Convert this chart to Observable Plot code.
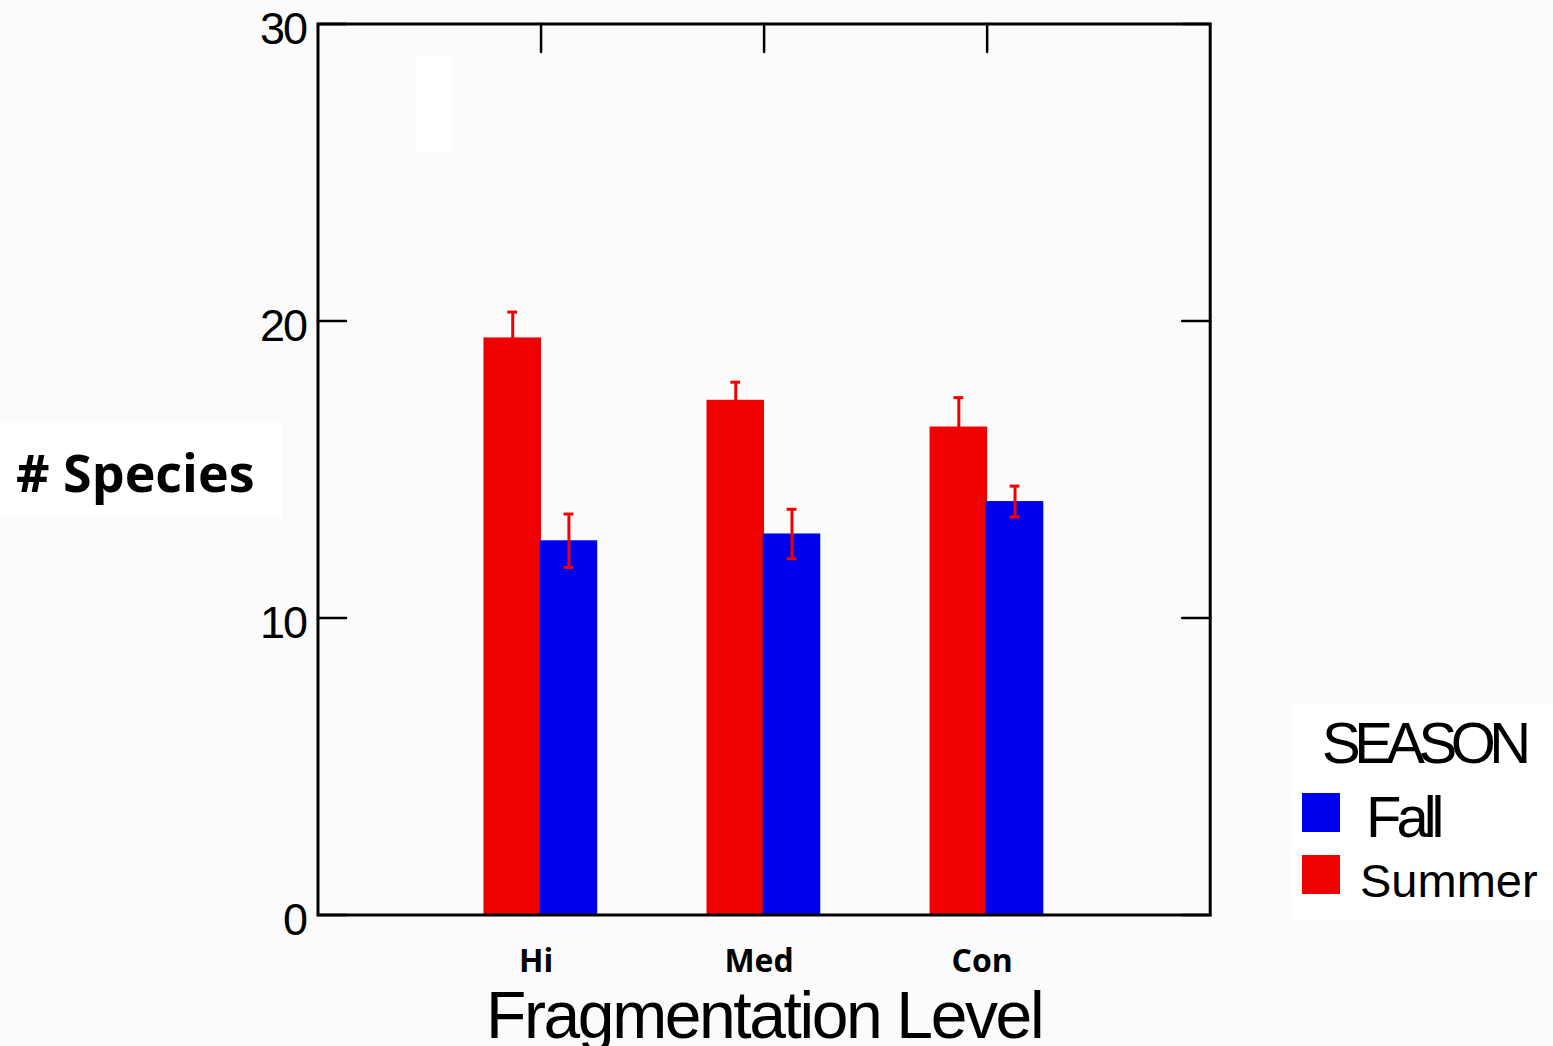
<!DOCTYPE html>
<html><head><meta charset="utf-8">
<script src="https://cdn.jsdelivr.net/npm/d3@7"></script>
<script src="https://cdn.jsdelivr.net/npm/@observablehq/plot@0.6"></script>
<style>
html,body{margin:0;padding:0;background:#fbfbfb;}
#wrap{position:relative;width:1553px;height:1046px;overflow:hidden;}
#wrap svg{position:absolute;left:0;top:0;}
.ov{position:absolute;white-space:nowrap;line-height:1;color:#000;}
.lab{font-family:"Liberation Sans",Arial,sans-serif;}
.sw{position:absolute;width:38px;height:39px;}
</style></head>
<body><div id="wrap"></div>
<script>
// ---- data ----
const categories = ["Hi", "Med", "Con"];
const seasons = ["Summer", "Fall"];
const summerMeans = [19.43, 17.33, 16.43];
const summerErrors = [0.87, 0.61, 0.99];
const fallMeans = [12.6, 12.83, 13.92];
const fallErrors = [0.9, 0.83, 0.52];
const yTicks = [0, 10, 20, 30];
const xTitle = "Fragmentation Level";
const yTitle = "# Species";
const legendTitle = "SEASON";

// ---- layout / style ----
const colors = {Summer: "#f10000", Fall: "#0000f0"};
const errColor = "#f00000";
const barOffsets = {Summer: [-0.256, 0.002], Fall: [-0.004, 0.254]};

const rows = [];
seasons.forEach(s => {
  const m = s === "Summer" ? summerMeans : fallMeans;
  const e = s === "Summer" ? summerErrors : fallErrors;
  categories.forEach((c, i) => rows.push({category: c, pos: i + 1, season: s, mean: m[i], err: e[i]}));
});
const xc = d => d.pos + (barOffsets[d.season][0] + barOffsets[d.season][1]) / 2;
const capHalf = 0.022;

const tickShape = {draw(ctx, l) { ctx.moveTo(0, 0); ctx.lineTo(0, -l); }};
const catPos = categories.map((c, i) => i + 1);

const plot = Plot.plot({
  width: 1553, height: 1046,
  marginLeft: 317.5, marginRight: 343.3, marginTop: 23.5, marginBottom: 131.5,
  style: {background: "transparent", fontFamily: "'Liberation Sans', Arial, sans-serif", color: "#000", overflow: "visible"},
  x: {domain: [0, 4], axis: null},
  y: {domain: [0, 30], axis: null},
  color: {domain: seasons, range: seasons.map(s => colors[s])},
  marks: [
    Plot.rectY(rows, {x1: d => d.pos + barOffsets[d.season][0], x2: d => d.pos + barOffsets[d.season][1], y1: 0, y2: "mean", fill: "season"}),
    Plot.ruleX(rows, {x: xc, y1: d => d.mean - d.err, y2: d => d.mean + d.err, stroke: errColor, strokeWidth: 3}),
    Plot.ruleY(rows, {y: d => d.mean + d.err, x1: d => xc(d) - capHalf, x2: d => xc(d) + capHalf, stroke: errColor, strokeWidth: 3}),
    Plot.ruleY(rows, {y: d => d.mean - d.err, x1: d => xc(d) - capHalf, x2: d => xc(d) + capHalf, stroke: errColor, strokeWidth: 3}),
    Plot.frame({stroke: "#000", strokeWidth: 3}),
    Plot.vector(catPos, {x: d => d, y: 30, length: 28, rotate: 180, anchor: "start", shape: tickShape, stroke: "#000", strokeWidth: 2.5}),
    Plot.vector(yTicks, {x: 0, y: d => d, length: 28, rotate: 90, anchor: "start", shape: tickShape, stroke: "#000", strokeWidth: 2.5}),
    Plot.vector(yTicks, {x: 4, y: d => d, length: 28, rotate: 270, anchor: "start", shape: tickShape, stroke: "#000", strokeWidth: 2.5}),
    Plot.axisY({ticks: yTicks, tickSize: 0, tickPadding: 12, fontSize: 45, dy: 6, label: null}),
    Plot.axisX({ticks: catPos, tickFormat: d => categories[d - 1], tickSize: 0, tickPadding: 34, fontSize: 32, fontWeight: "bold", fontFamily: "'Open Sans', sans-serif", dx: -5, label: null}),
    Plot.text([xTitle], {text: d => d, frameAnchor: "bottom", dy: 123, fontSize: 66})
  ]
});

const wrap = document.getElementById("wrap");

// white artifact box
const art = document.createElement("div");
art.style.cssText = "position:absolute;left:415px;top:55px;width:38px;height:97px;background:#fff;";
wrap.appendChild(art);

wrap.appendChild(plot);

plot.querySelectorAll("text").forEach(t => {
  const s = t.textContent;
  if (yTicks.map(String).includes(s)) t.style.letterSpacing = "-2px";
  if (s === xTitle) t.style.letterSpacing = "-2.4px";
});

// y title with white box
const yb = document.createElement("div");
yb.style.cssText = "position:absolute;left:0;top:422px;width:282px;height:96px;background:#fff;";
wrap.appendChild(yb);
const yt = document.createElement("div");
yt.className = "ov";
yt.textContent = yTitle;
yt.style.cssText += "left:16px;top:446px;font-family:'Open Sans',sans-serif;font-weight:700;font-size:52px;";
wrap.appendChild(yt);

// legend
const lb = document.createElement("div");
lb.style.cssText = "position:absolute;left:1292px;top:705px;width:261px;height:215px;background:#fff;";
wrap.appendChild(lb);
const lt = document.createElement("div");
lt.className = "ov lab";
lt.textContent = legendTitle;
lt.style.cssText += "left:1322px;top:714px;font-size:58px;letter-spacing:-6.5px;";
wrap.appendChild(lt);
const legendItems = [
  {season: "Fall", top: 793, textTop: 788, left: 1366, size: 58, ls: -5},
  {season: "Summer", top: 855, textTop: 857, left: 1360, size: 47, ls: 0}
];
legendItems.forEach(it => {
  const sw = document.createElement("div");
  sw.className = "sw";
  sw.style.left = "1302px";
  sw.style.top = it.top + "px";
  sw.style.background = colors[it.season];
  wrap.appendChild(sw);
  const tx = document.createElement("div");
  tx.className = "ov lab";
  tx.textContent = it.season;
  tx.style.left = it.left + "px";
  tx.style.top = it.textTop + "px";
  tx.style.fontSize = it.size + "px";
  tx.style.letterSpacing = it.ls + "px";
  wrap.appendChild(tx);
});
</script>
</body></html>
